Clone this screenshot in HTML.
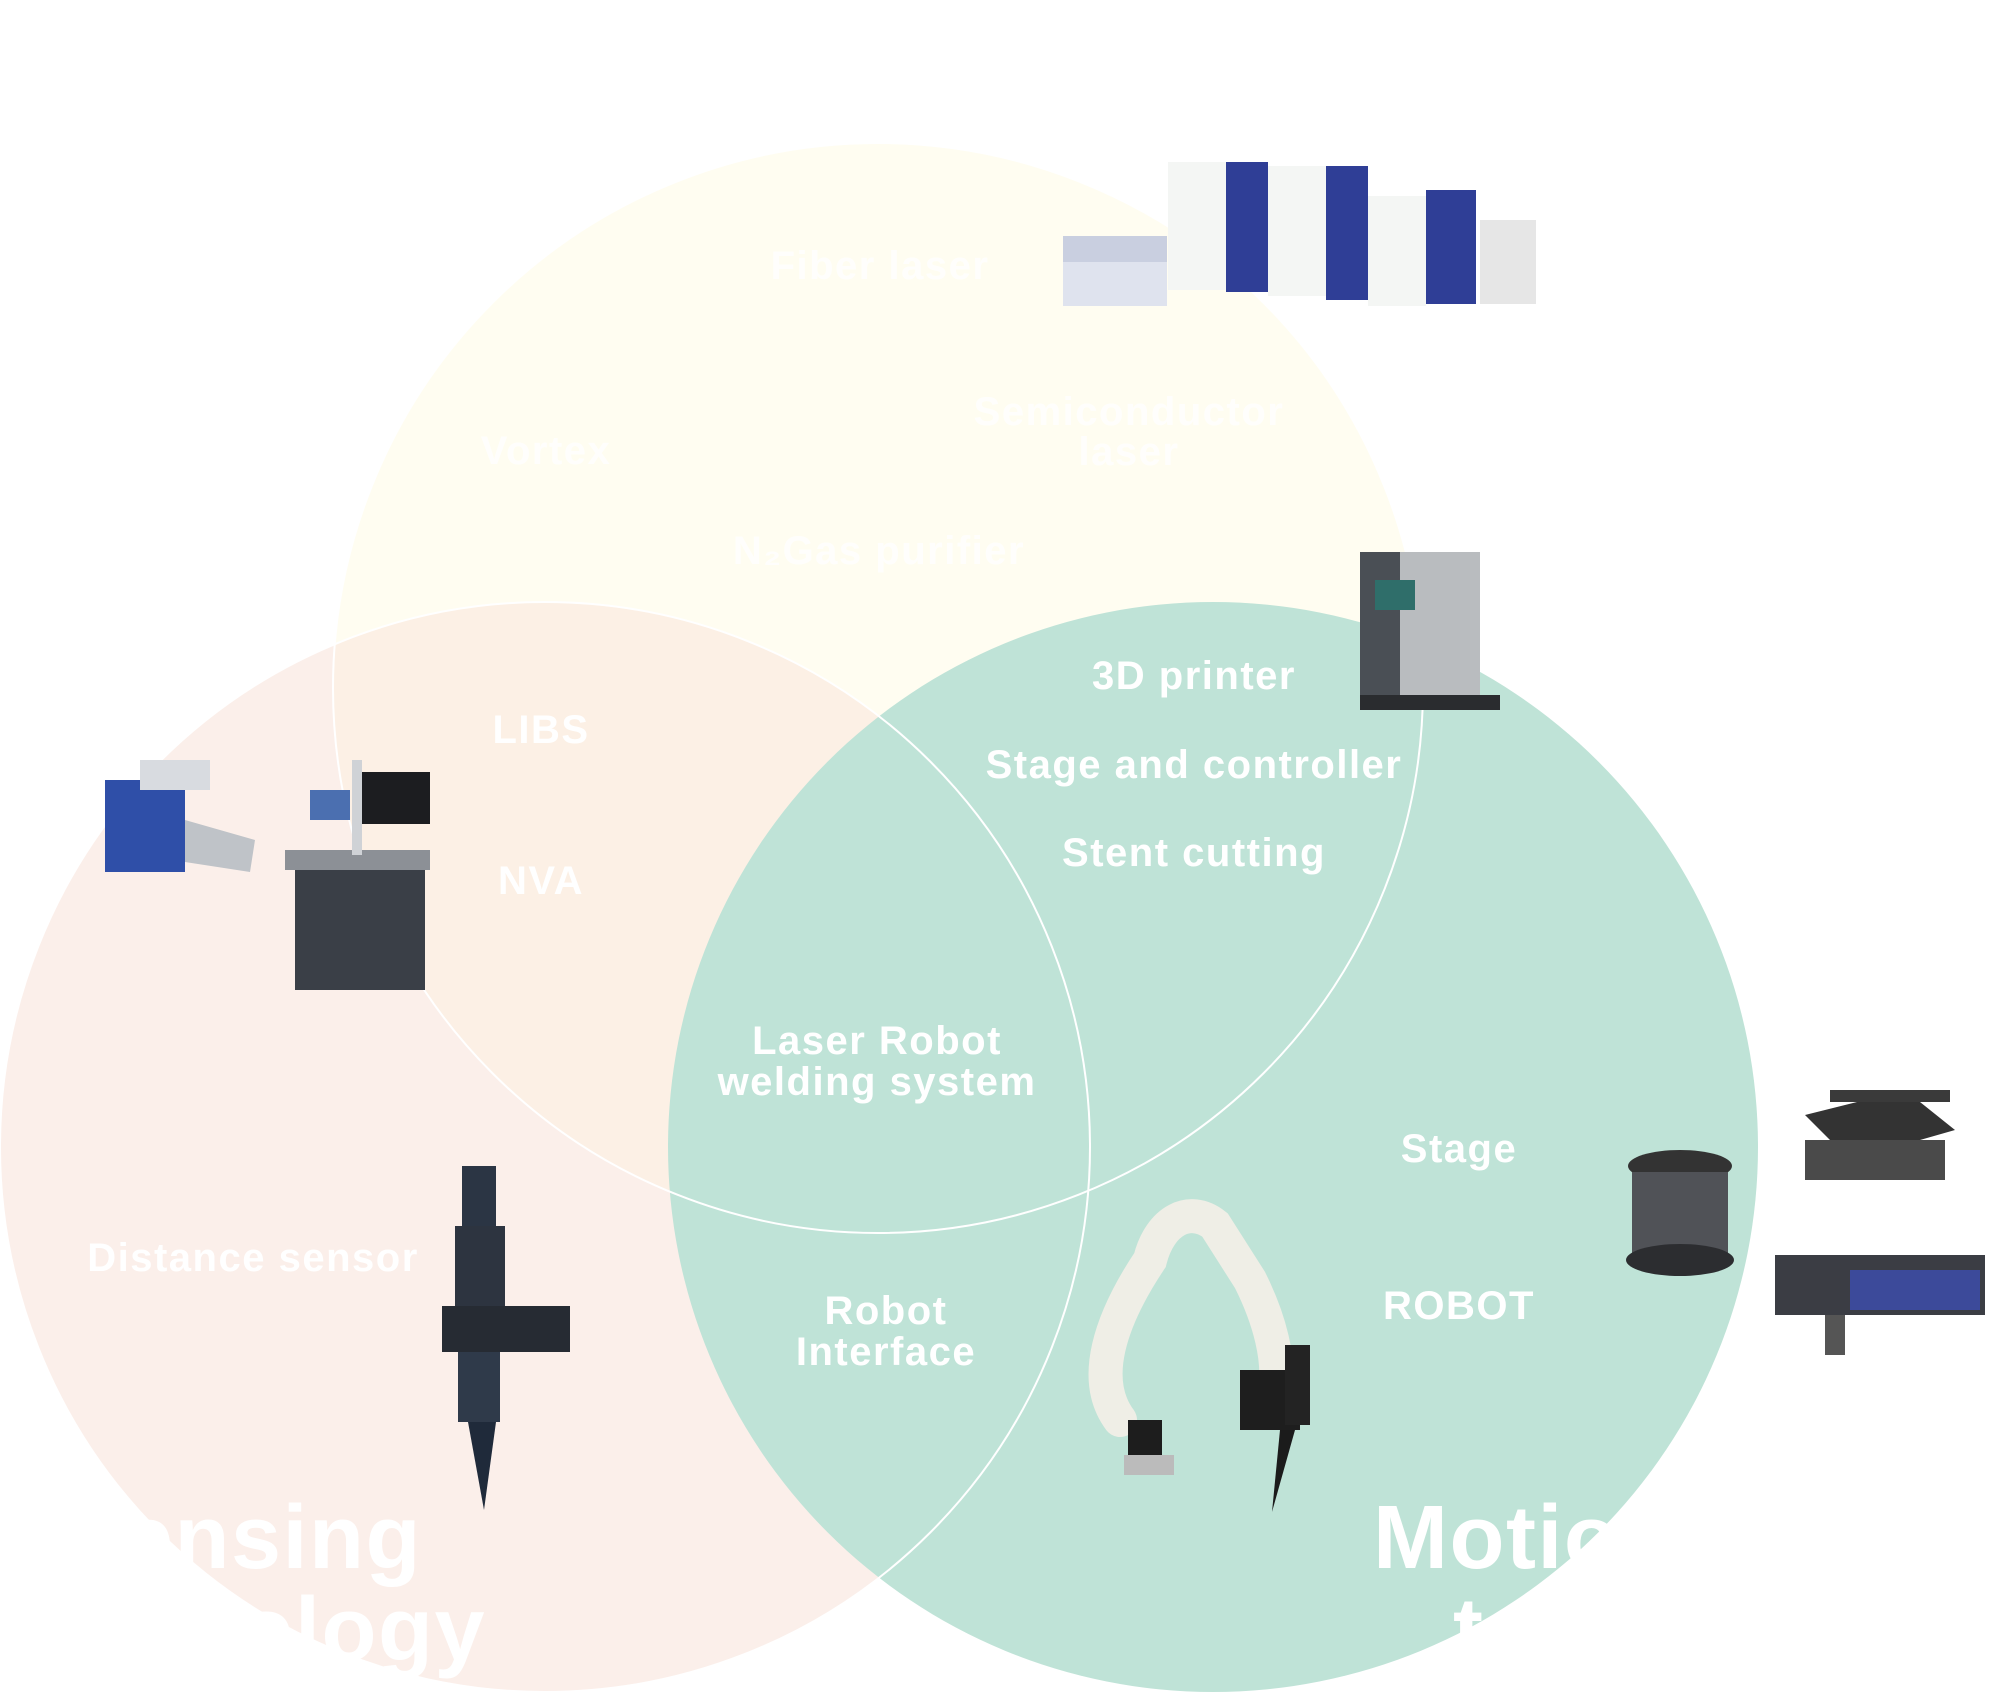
<!DOCTYPE html>
<html><head><meta charset="utf-8"><style>
html,body{margin:0;padding:0;background:#fff}
svg{display:block}
text{font-family:"Liberation Sans Narrow","Liberation Sans",sans-serif;font-weight:bold;fill:#fff;text-anchor:middle;letter-spacing:1.5px}
</style></head><body>
<svg width="2000" height="1696" viewBox="0 0 2000 1696" xmlns="http://www.w3.org/2000/svg">
<defs>
<clipPath id="cy"><circle cx="878" cy="688" r="545"/></clipPath>
</defs>
<rect width="2000" height="1696" fill="#fff"/>
<circle cx="878" cy="688" r="545" fill="#fffdf1"/>
<circle cx="545" cy="1147" r="545" fill="#fbefea"/>
<circle cx="545" cy="1147" r="545" fill="#fcf0e5" clip-path="url(#cy)"/>
<circle cx="1213" cy="1147" r="545" fill="#bfe3d7"/>
<circle cx="878" cy="688" r="545" fill="none" stroke="#fff" stroke-width="2"/>
<circle cx="545" cy="1147" r="545" fill="none" stroke="#fff" stroke-width="2"/>

<g>
<rect x="1063" y="240" width="104" height="66" fill="#dfe3ee"/>
<rect x="1063" y="236" width="104" height="26" fill="#c9cfe0"/>
<rect x="1168" y="162" width="58" height="128" fill="#f4f6f4"/>
<rect x="1226" y="162" width="42" height="130" fill="#2f3e96"/>
<rect x="1268" y="166" width="58" height="130" fill="#f4f6f4"/>
<rect x="1326" y="166" width="42" height="134" fill="#2f3e96"/>
<rect x="1368" y="196" width="58" height="110" fill="#f4f6f4"/>
<rect x="1426" y="190" width="50" height="114" fill="#2f3e96"/>
<rect x="1480" y="220" width="56" height="84" fill="#e6e6e6"/>
</g>
<rect x="1360" y="552" width="100" height="148" fill="#4a4f55"/>
<rect x="1400" y="552" width="80" height="150" fill="#b9bcbf"/>
<rect x="1375" y="580" width="40" height="30" fill="#2f6e6a"/>
<rect x="1360" y="695" width="140" height="15" fill="#2a2c2f"/>
<rect x="105" y="780" width="80" height="92" fill="#2f4fa8"/>
<rect x="140" y="760" width="70" height="30" fill="#d8dbe0"/>
<polygon points="185,820 255,840 250,872 185,862" fill="#bfc3c8"/>
<rect x="295" y="860" width="130" height="130" fill="#3a3f47"/>
<rect x="285" y="850" width="145" height="20" fill="#8c9096"/>
<rect x="360" y="772" width="70" height="52" fill="#1c1d20"/>
<rect x="352" y="760" width="10" height="95" fill="#cfd2d6"/>
<rect x="310" y="790" width="40" height="30" fill="#4b6fb0"/>
<rect x="462" y="1166" width="34" height="60" fill="#2b3544"/>
<rect x="455" y="1226" width="50" height="90" fill="#2d3440"/>
<rect x="442" y="1306" width="128" height="46" fill="#262b33"/>
<rect x="458" y="1352" width="42" height="70" fill="#2f3a4a"/>
<polygon points="468,1422 496,1422 484,1510" fill="#1f2a3a"/>
<path d="M1120,1420 C1090,1380 1110,1320 1150,1260 C1160,1220 1190,1205 1215,1225 L1250,1280 C1270,1320 1280,1360 1275,1390" fill="none" stroke="#efeee6" stroke-width="34" stroke-linecap="round"/>
<rect x="1128" y="1420" width="34" height="38" fill="#1d1d1d"/>
<rect x="1124" y="1455" width="50" height="20" fill="#bbb"/>
<rect x="1240" y="1370" width="60" height="60" fill="#1e1e1e"/>
<rect x="1285" y="1345" width="25" height="80" fill="#232323"/>
<polygon points="1280,1430 1295,1430 1272,1512" fill="#1b1b1b"/>
<ellipse cx="1680" cy="1166" rx="52" ry="16" fill="#333"/>
<rect x="1632" y="1172" width="96" height="86" fill="#505257"/>
<ellipse cx="1680" cy="1260" rx="54" ry="16" fill="#2c2d30"/>
<polygon points="1805,1115 1905,1090 1955,1130 1850,1160" fill="#333"/>
<rect x="1805" y="1140" width="140" height="40" fill="#4a4a4a"/>
<rect x="1830" y="1090" width="120" height="12" fill="#3a3a3a"/>
<rect x="1775" y="1255" width="210" height="60" fill="#3b3d44"/>
<rect x="1850" y="1270" width="130" height="40" fill="#3c4a9a"/>
<rect x="1825" y="1315" width="20" height="40" fill="#555"/>

<g font-size="40">
<text x="880" y="279" opacity="0.85">Fiber laser</text>
<text x="546" y="464" opacity="0.85">Vortex</text>
<text x="1129" y="425" opacity="0.85">Semiconductor</text>
<text x="1129" y="465" opacity="0.85">laser</text>
<text x="879" y="564" opacity="0.85">N₂Gas purifier</text>
<text x="541" y="743">LIBS</text>
<text x="541" y="894">NVA</text>
<text x="1194" y="689">3D printer</text>
<text x="1194" y="778">Stage and controller</text>
<text x="1194" y="866">Stent cutting</text>
<text x="877" y="1054">Laser Robot</text>
<text x="877" y="1095">welding system</text>
<text x="1459" y="1162">Stage</text>
<text x="1459" y="1319">ROBOT</text>
<text x="886" y="1324">Robot</text>
<text x="886" y="1365">Interface</text>
<text x="253" y="1271">Distance sensor</text>
</g>
<g font-size="90" style="letter-spacing:3px">
<text x="422" y="1568" text-anchor="end" style="text-anchor:end">Sensing</text>
<text x="486" y="1660" style="text-anchor:end">technology</text>
<text x="1373" y="1568" style="text-anchor:start">Motion</text>
<text x="1453" y="1660" style="text-anchor:start">technology</text>
</g>
</svg>
</body></html>
